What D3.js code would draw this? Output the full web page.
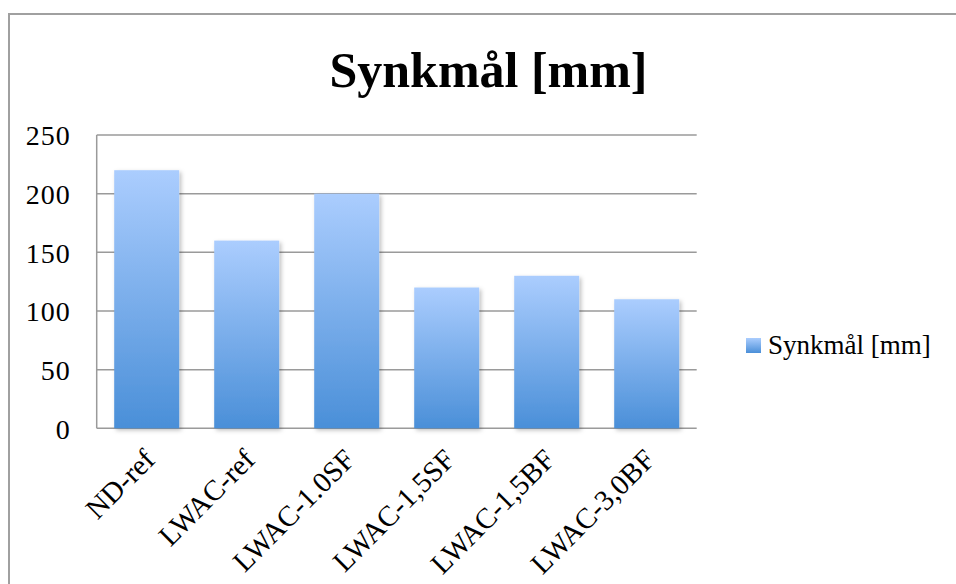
<!DOCTYPE html>
<html>
<head>
<meta charset="utf-8">
<script src="https://cdn.jsdelivr.net/npm/d3@7/dist/d3.min.js"></script>
<style>
  html, body { margin: 0; padding: 0; background: #fff; overflow: hidden; }
  svg { display: block; }
</style>
</head>
<body>
<svg id="chart" width="956" height="584"></svg>
<script>
// Sag measurements per mix
const categories = ["ND-ref", "LWAC-ref", "LWAC-1.0SF", "LWAC-1,5SF", "LWAC-1,5BF", "LWAC-3,0BF"];
const values = [220, 160, 200, 120, 130, 110];
const yTicks = [0, 50, 100, 150, 200, 250];
const seriesName = "Synkmål [mm]";
const titleText = "Synkmål [mm]";

const svg = d3.select("#chart");
const W = 956, H = 584;
const font = "'Liberation Serif', 'Times New Roman', serif";

const plot = { left: 96.7, right: 696.7, top: 135, bottom: 428.3 };

// White page background
svg.append("rect").attr("width", W).attr("height", H).attr("fill", "#fff");

const defs = svg.append("defs");
const grad = defs.append("linearGradient")
  .attr("id", "barGrad").attr("x1", 0).attr("y1", 0).attr("x2", 0).attr("y2", 1);
grad.append("stop").attr("offset", "0%").attr("stop-color", "#abcdfe");
grad.append("stop").attr("offset", "100%").attr("stop-color", "#4a8fd8");

const shadow = defs.append("filter").attr("id", "barShadow")
  .attr("x", "-20%").attr("y", "-10%").attr("width", "140%").attr("height", "120%");
shadow.append("feDropShadow")
  .attr("dx", 2).attr("dy", 2).attr("stdDeviation", 2)
  .attr("flood-color", "#000").attr("flood-opacity", 0.25);

// Outer chart frame (top and left edges; the rest runs past the page)
svg.append("path")
  .attr("d", `M9,${H}V14H${W}`)
  .attr("fill", "none").attr("stroke", "#a0a0a0").attr("stroke-width", 2);

// Title
svg.append("text")
  .attr("x", 488.5).attr("y", 87)
  .attr("text-anchor", "middle")
  .attr("font-family", font).attr("font-weight", "bold").attr("font-size", 50)
  .attr("fill", "#000")
  .text(titleText);

const x = d3.scaleBand().domain(categories).range([plot.left, plot.right]).paddingInner(0.35).paddingOuter(0.175);
const y = d3.scaleLinear().domain([0, 250]).range([plot.bottom, plot.top]);

// Horizontal gridlines
svg.append("g")
  .selectAll("line").data(yTicks).join("line")
  .attr("x1", plot.left).attr("x2", plot.right)
  .attr("y1", d => y(d)).attr("y2", d => y(d))
  .attr("stroke", "#9a9a9a").attr("stroke-width", 1.5);

// Value axis line
svg.append("line")
  .attr("x1", plot.left).attr("x2", plot.left)
  .attr("y1", y(250)).attr("y2", y(0))
  .attr("stroke", "#9a9a9a").attr("stroke-width", 1.5);

// Y axis tick labels
const yAxis = d3.axisLeft(y).tickValues(yTicks).tickSize(0).tickPadding(0);
const yg = svg.append("g").attr("transform", `translate(${plot.left - 26},0)`).call(yAxis);
yg.select(".domain").remove();
yg.selectAll("text")
  .attr("font-family", font).attr("font-size", 28).attr("fill", "#000")
  .attr("letter-spacing", 1)
  .attr("dy", "0.35em");

// Bars
svg.append("g")
  .selectAll("rect").data(values).join("rect")
  .attr("x", (d, i) => x(categories[i]))
  .attr("y", d => y(d))
  .attr("width", x.bandwidth())
  .attr("height", d => y(0) - y(d))
  .attr("fill", "url(#barGrad)")
  .attr("filter", "url(#barShadow)");

// Category labels, rotated
const xAxis = d3.axisBottom(x).tickSize(0).tickPadding(0);
const xg = svg.append("g").attr("transform", `translate(0,${plot.bottom})`).call(xAxis);
xg.select(".domain").remove();
xg.selectAll("text")
  .attr("font-family", font).attr("font-size", 29).attr("fill", "#000")
  .attr("text-anchor", "end")
  .attr("dy", 0)
  .attr("transform", "translate(10,33) rotate(-45)");

// Legend
const lg = svg.append("g").attr("transform", "translate(746,338)");
lg.append("rect").attr("width", 15).attr("height", 15).attr("fill", "url(#barGrad)");
lg.append("text")
  .attr("x", 22).attr("y", 16)
  .attr("font-family", font).attr("font-size", 27).attr("fill", "#000")
  .text(seriesName);
</script>
</body>
</html>
